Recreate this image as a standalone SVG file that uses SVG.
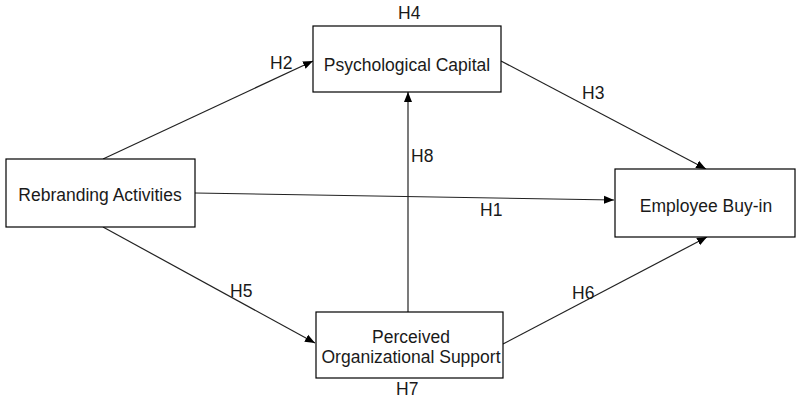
<svg xmlns="http://www.w3.org/2000/svg" width="796" height="399" viewBox="0 0 796 399">
<style>
.box{fill:#fff;stroke:#000;stroke-width:1.2}
.t{font-family:"Liberation Sans",Arial,sans-serif;font-size:17.5px;fill:#1a1a1a;text-anchor:middle}
.h{font-family:"Liberation Sans",Arial,sans-serif;font-size:17.5px;fill:#1a1a1a}
.c{stroke:#222;stroke-width:1.2;fill:none;marker-end:url(#ah)}
</style>
<defs>
<marker id="ah" markerUnits="userSpaceOnUse" markerWidth="12" markerHeight="10" refX="10" refY="4" orient="auto" viewBox="0 0 12 8">
<path d="M0,0 L10,4 L0,8 Z" fill="#000"/>
</marker>
</defs>
<rect width="796" height="399" fill="#fff"/>
<g id="connectors">
<line class="c" x1="103" y1="159" x2="313" y2="61"/>
<line class="c" x1="195" y1="193" x2="614" y2="200"/>
<line class="c" x1="103" y1="227" x2="315" y2="343"/>
<line class="c" x1="501" y1="61" x2="706" y2="169"/>
<line class="c" x1="503" y1="344" x2="707" y2="237"/>
<line class="c" x1="408" y1="312" x2="408" y2="92"/>
</g>
<g id="rebranding">
<rect class="box" x="6" y="159" width="189" height="68"/>
<text class="t" x="100" y="201">Rebranding Activities</text>
</g>
<g id="psycap">
<rect class="box" x="313" y="26" width="188" height="66"/>
<text class="t" x="407" y="71">Psychological Capital</text>
</g>
<g id="buyin">
<rect class="box" x="615" y="169" width="180" height="68"/>
<text class="t" x="706" y="212">Employee Buy-in</text>
</g>
<g id="pos">
<rect class="box" x="316" y="312" width="187" height="66"/>
<text class="t" x="411" y="343">Perceived</text>
<text class="t" x="411" y="363">Organizational Support</text>
</g>
<g id="labels">
<text class="h" x="270" y="69">H2</text>
<text class="h" x="582" y="99">H3</text>
<text class="h" x="411" y="162">H8</text>
<text class="h" x="480" y="216">H1</text>
<text class="h" x="230" y="297">H5</text>
<text class="h" x="572" y="299">H6</text>
<text class="h" x="398" y="19">H4</text>
<text class="h" x="396" y="395">H7</text>
</g>
</svg>
